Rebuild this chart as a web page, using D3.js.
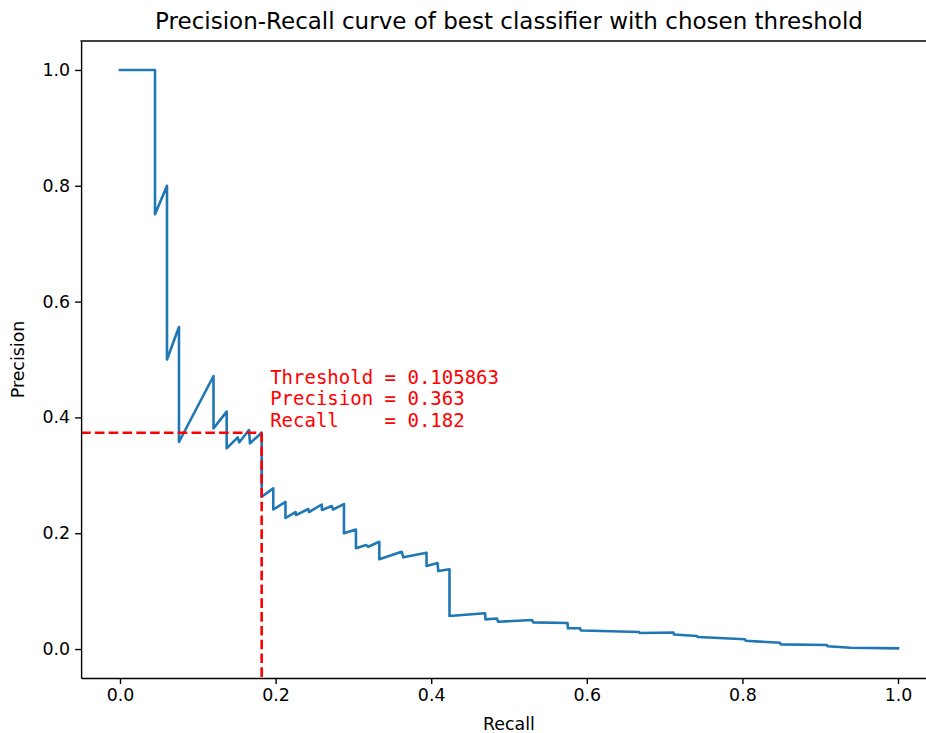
<!DOCTYPE html>
<html>
<head>
<meta charset="utf-8">
<script src="https://cdn.jsdelivr.net/npm/d3@7"></script>
<style>
  html, body { margin: 0; padding: 0; background: #fff; }
  svg { display: block; }
  text { font-family: "DejaVu Sans", sans-serif; }
</style>
</head>
<body>
<svg id="chart" width="926" height="733"></svg>
<script>
// ---- data ----
const recall = [
  0.0, 0.045, 0.045, 0.0604, 0.0604, 0.0758, 0.0758, 0.1202, 0.1202, 0.1371,
  0.1371, 0.1513, 0.1533, 0.1658, 0.1671, 0.1821, 0.1821, 0.197, 0.197, 0.2127,
  0.2127, 0.2256, 0.2262, 0.242, 0.2429, 0.2593, 0.2596, 0.2721, 0.2738, 0.2879,
  0.2879, 0.3033, 0.3033, 0.3162, 0.3191, 0.3333, 0.3333, 0.3621, 0.3641, 0.3792,
  0.394, 0.394, 0.4081, 0.4091, 0.4235, 0.4235, 0.4692, 0.4698, 0.4846, 0.4859,
  0.5296, 0.5312, 0.5752, 0.5758, 0.5913, 0.5925, 0.6067, 0.6671, 0.6684, 0.7114,
  0.7121, 0.7416, 0.7429, 0.8033, 0.8042, 0.8483, 0.8492, 0.9087, 0.9094, 0.939,
  1.0
];
const precision = [
  1.0, 1.0, 0.751, 0.8, 0.5, 0.556, 0.3575, 0.4715, 0.381, 0.41,
  0.3466, 0.3656, 0.357, 0.3782, 0.3553, 0.3736, 0.263, 0.2775, 0.241, 0.254,
  0.2263, 0.2366, 0.2314, 0.2418, 0.2366, 0.2496, 0.24, 0.247, 0.241, 0.2504,
  0.1998, 0.2064, 0.1739, 0.1796, 0.1767, 0.1853, 0.155, 0.168, 0.1584, 0.1623,
  0.1663, 0.1434, 0.1485, 0.1347, 0.1377, 0.057, 0.0617, 0.0513, 0.0527, 0.0472,
  0.0501, 0.0461, 0.0449, 0.0358, 0.0358, 0.032, 0.0316, 0.0294, 0.0276, 0.0285,
  0.025, 0.0225, 0.0207, 0.0168, 0.0142, 0.0109, 0.0081, 0.0069, 0.0048, 0.0022,
  0.0012
];
const xTicks = [0.0, 0.2, 0.4, 0.6, 0.8, 1.0];
const yTicks = [0.0, 0.2, 0.4, 0.6, 0.8, 1.0];
const chosenRecall = 0.1821;
const chosenPrecision = 0.3736;
const annotationLines = ["Threshold = 0.105863", "Precision = 0.363", "Recall    = 0.182"];
const titleText = "Precision-Recall curve of best classifier with chosen threshold";
const xLabel = "Recall";
const yLabel = "Precision";

// ---- layout ----
const svg = d3.select("#chart");
const padL = 81.1, padR = 936.9, padT = 41, padB = 678;
const x = d3.scaleLinear().domain([-0.05, 1.05]).range([padL, padR]);
const y = d3.scaleLinear().domain([-0.05, 1.05]).range([padB, padT]);

const tickFont = "17.4px";

// curve
const pts = recall.map((r, i) => [r, precision[i]]);
const line = d3.line().x(d => x(d[0])).y(d => y(d[1]));
svg.append("path")
  .datum(pts)
  .attr("d", line)
  .attr("fill", "none")
  .attr("stroke", "#1f77b4")
  .attr("stroke-width", 2.6)
  .attr("stroke-linejoin", "round")
  .attr("stroke-linecap", "square");

// dashed threshold lines
svg.append("line")
  .attr("x1", x(-0.05)).attr("x2", x(chosenRecall))
  .attr("y1", y(chosenPrecision)).attr("y2", y(chosenPrecision))
  .attr("stroke", "#ff0000").attr("stroke-width", 2.6)
  .attr("stroke-dasharray", "9.6,4.2");
svg.append("line")
  .attr("x1", x(chosenRecall)).attr("x2", x(chosenRecall))
  .attr("y1", y(chosenPrecision)).attr("y2", y(-0.05))
  .attr("stroke", "#ff0000").attr("stroke-width", 2.6)
  .attr("stroke-dasharray", "9.6,4.2");

// annotation
const ann = svg.append("text")
  .attr("x", x(chosenRecall) + 8.5)
  .attr("y", 383.5)
  .attr("fill", "#ff0000")
  .style("font-family", "'DejaVu Sans Mono', monospace")
  .style("font-size", "19px")
  .attr("xml:space", "preserve")
  .style("white-space", "pre");
annotationLines.forEach((t, i) => {
  ann.append("tspan")
    .attr("x", x(chosenRecall) + 8.5)
    .attr("dy", i === 0 ? 0 : 21.5)
    .text(t);
});

// axes
const xAxis = d3.axisBottom(x).tickValues(xTicks).tickFormat(d3.format(".1f"))
  .tickSize(6).tickPadding(5).tickSizeOuter(0);
const yAxis = d3.axisLeft(y).tickValues(yTicks).tickFormat(d3.format(".1f"))
  .tickSize(6).tickPadding(5).tickSizeOuter(0);

const gx = svg.append("g").attr("transform", `translate(0,${padB})`).call(xAxis);
const gy = svg.append("g").attr("transform", `translate(${padL},0)`).call(yAxis);
[gx, gy].forEach(g => {
  g.selectAll("path.domain").attr("stroke", "#000").attr("stroke-width", 1.4);
  g.selectAll(".tick line").attr("stroke", "#000").attr("stroke-width", 1.4);
  g.selectAll(".tick text").attr("fill", "#000")
    .style("font-family", "'DejaVu Sans', sans-serif").style("font-size", tickFont);
});

// top & right spines
svg.append("line").attr("x1", padL).attr("x2", padR).attr("y1", padT).attr("y2", padT)
  .attr("stroke", "#000").attr("stroke-width", 1.4).attr("stroke-linecap", "square");
svg.append("line").attr("x1", padR).attr("x2", padR).attr("y1", padT).attr("y2", padB)
  .attr("stroke", "#000").attr("stroke-width", 1.4);

// labels
svg.append("text")
  .attr("x", (padL + padR) / 2).attr("y", 730)
  .attr("text-anchor", "middle")
  .style("font-size", tickFont)
  .text(xLabel);
svg.append("text")
  .attr("transform", `translate(24,${(padT + padB) / 2}) rotate(-90)`)
  .attr("text-anchor", "middle")
  .style("font-size", tickFont)
  .text(yLabel);

// title
svg.append("text")
  .attr("x", (padL + padR) / 2).attr("y", 29)
  .attr("text-anchor", "middle")
  .style("font-size", "23px")
  .text(titleText);
</script>
</body>
</html>
